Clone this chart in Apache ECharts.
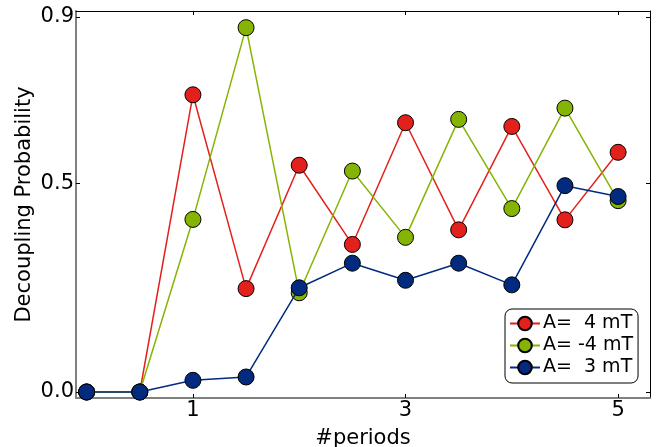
<!DOCTYPE html>
<html>
<head>
<meta charset="utf-8">
<script src="https://cdn.jsdelivr.net/npm/echarts@6/dist/echarts.min.js"></script>
<style>html,body{margin:0;padding:0;background:#fff;}#c{width:657px;height:447px;}</style>
</head>
<body>
<div id="c"></div>
<script>
const periods = [0, 0.5, 1, 1.5, 2, 2.5, 3, 3.5, 4, 4.5, 5];
const seriesNames = ['A=  4 mT', 'A= -4 mT', 'A=  3 mT'];
const probA4 = [0, 0, 0.713, 0.248, 0.544, 0.354, 0.646, 0.389, 0.637, 0.413, 0.575];
const probAm4 = [0, 0, 0.414, 0.874, 0.238, 0.530, 0.371, 0.654, 0.440, 0.681, 0.459];
const probA3 = [0, 0, 0.028, 0.036, 0.250, 0.309, 0.268, 0.309, 0.257, 0.495, 0.469];
const xTicks = [1, 3, 5];
const yTicks = [0, 0.5, 0.9];

const colors = ['#e3211c', '#86b404', '#022b80'];
const font = 'DejaVu Sans';
const pairs = (ys) => periods.map((x, i) => [x, ys[i]]);
const values = [probA4, probAm4, probA3];

const chart = echarts.init(document.getElementById('c'), null, {renderer: 'canvas'});
chart.setOption({
  animation: false,
  backgroundColor: '#fff',
  grid: {left: 76, top: 11, right: 7, bottom: 49, containLabel: false, outerBoundsMode: 'none'},
  xAxis: [{
    type: 'value', min: -0.1, max: 5.3, position: 'bottom',
    name: '#periods', nameLocation: 'middle', nameGap: 30, nameMoveOverlap: false,
    nameTextStyle: {fontFamily: font, fontSize: 21, color: '#000'},
    axisLine: {onZero: false, lineStyle: {color: '#808080', width: 2}},
    axisTick: {inside: true, length: 4, customValues: xTicks, lineStyle: {color: '#000'}},
    axisLabel: {customValues: xTicks, margin: 2, fontFamily: font, fontSize: 21, color: '#000'},
    splitLine: {show: false}
  }, {
    type: 'value', min: -0.1, max: 5.3, position: 'top',
    axisLine: {onZero: false, lineStyle: {color: '#000', width: 1}},
    axisTick: {inside: true, length: 4, customValues: xTicks, lineStyle: {color: '#000'}},
    axisLabel: {show: false},
    splitLine: {show: false}
  }],
  yAxis: [{
    type: 'value', min: -0.0144, max: 0.914, position: 'left',
    name: 'Decoupling Probability', nameLocation: 'middle', nameGap: 41, nameMoveOverlap: false,
    nameTextStyle: {fontFamily: font, fontSize: 21, color: '#000'},
    axisLine: {onZero: false, lineStyle: {color: '#808080', width: 2}},
    axisTick: {inside: true, length: 4, customValues: yTicks, lineStyle: {color: '#000'}},
    axisLabel: {customValues: yTicks, margin: 2, fontFamily: font, fontSize: 21, color: '#000',
      formatter: (v) => v.toFixed(1)},
    splitLine: {show: false}
  }, {
    type: 'value', min: -0.0144, max: 0.914, position: 'right',
    axisLine: {onZero: false, lineStyle: {color: '#000', width: 1}},
    axisTick: {inside: true, length: 4, customValues: yTicks, lineStyle: {color: '#000'}},
    axisLabel: {show: false},
    splitLine: {show: false}
  }],
  legend: {
    orient: 'vertical', left: 505, top: 309,
    padding: [5, 5, 6, 4], itemGap: 3, itemWidth: 30, itemHeight: 17,
    borderColor: '#000', borderWidth: 1, borderRadius: 7, backgroundColor: '#fff',
    textStyle: {fontFamily: font, fontSize: 19, color: '#000', padding: [0, 0, 0, -2]},
    data: seriesNames
  },
  series: seriesNames.map((name, i) => ({
    name: name, type: 'line', z: 2 + i,
    data: pairs(values[i]),
    symbol: 'circle', symbolSize: 16, showAllSymbol: true,
    lineStyle: {color: colors[i], width: 1.5},
    itemStyle: {color: colors[i], borderColor: '#000', borderWidth: 1}
  }))
});
</script>
</body>
</html>
